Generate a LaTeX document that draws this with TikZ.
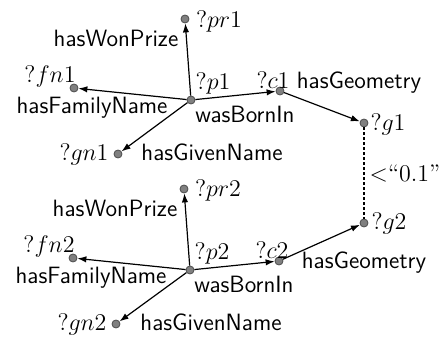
\documentclass[tikz,border=0pt]{standalone}
\usetikzlibrary{arrows.meta}

\begin{document}
\begin{tikzpicture}[x=0.5pt, y=-0.5pt, >={Latex[length=4.5pt,width=3.2pt]},
  font=\fontsize{12}{14}\selectfont,
  var/.style={circle, draw=black!70, fill=gray, inner sep=0pt, minimum size=4pt},
  vlab/.style={inner sep=0pt},
  prop/.style={inner sep=0pt, font=\fontsize{11.8}{14}\selectfont\sffamily},
  rel/.style={->, line width=0.6pt}]
\useasboundingbox (0,0) rectangle (446,337);
% first pattern
\node[var] (p1)  at (191,100) {};
\node[var] (pr1) at (185,19) {};
\node[var] (fn1) at (74,88) {};
\node[var] (gn1) at (118,154) {};
\node[var] (c1)  at (280,91) {};
\node[var] (g1)  at (364,123) {};
% second pattern
\node[var] (p2)  at (190,270) {};
\node[var] (pr2) at (184,189) {};
\node[var] (fn2) at (73,258) {};
\node[var] (gn2) at (116,324) {};
\node[var] (c2)  at (279,261) {};
\node[var] (g2)  at (364,223) {};
% variable names
\node[vlab] (lp1)  at (213,84)  {$?p1$};
\node[vlab] (lpr1) at (219,21)  {$?pr1$};
\node[vlab] (lfn1) at (50,77)   {$?fn1$};
\node[vlab] (lgn1) at (84,155)  {$?gn1$};
\node[vlab] (lc1)  at (273,80)  {$?c1$};
\node[vlab] (lg1)  at (388,125) {$?g1$};
\node[vlab] (lp2)  at (212,254) {$?p2$};
\node[vlab] (lpr2) at (218,191) {$?pr2$};
\node[vlab] (lfn2) at (49,247)  {$?fn2$};
\node[vlab] (lgn2) at (82,325)  {$?gn2$};
\node[vlab] (lc2)  at (272,250) {$?c2$};
\node[vlab] (lg2)  at (389,223) {$?g2$};
% properties
\node[prop] (won1) at (116,38)  {hasWonPrize};
\node[prop] (fam1) at (92,108)  {hasFamilyName};
\node[prop] (giv1) at (212,152) {hasGivenName};
\node[prop] (bor1) at (245,114) {wasBornIn};
\node[prop] (geo1) at (359,83)  {hasGeometry};
\node[prop] (won2) at (115,208) {hasWonPrize};
\node[prop] (fam2) at (91,278)  {hasFamilyName};
\node[prop] (giv2) at (211,322) {hasGivenName};
\node[prop] (bor2) at (244,284) {wasBornIn};
\node[prop] (geo2) at (364,263) {hasGeometry};
\foreach \i in {1,2}{
  \foreach \t in {pr,fn,gn,c}{\draw[rel] (p\i) -- (\t\i);}
  \draw[rel] (c\i) -- (g\i);
}
\draw[line width=0.6pt, dash pattern=on 1.5pt off 1pt] (g1) -- (g2);
\node[vlab] (dist) at (405,173) {$<$``0.1''};
\end{tikzpicture}
\end{document}
